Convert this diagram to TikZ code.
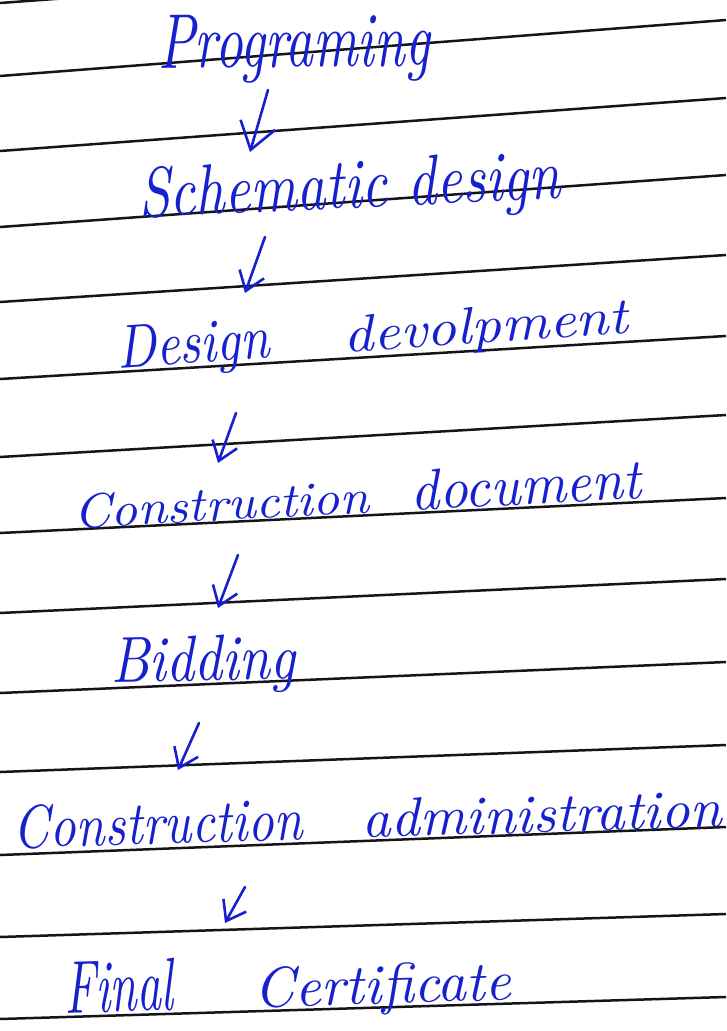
\documentclass[tikz,border=0pt]{standalone}
\usepackage{graphicx}
\usetikzlibrary{arrows.meta}
\definecolor{ink}{RGB}{22,32,205}
\definecolor{rulecol}{RGB}{20,20,25}
% a handwritten word, stretched to a given width and height (in pt)
\newcommand{\hw}[3]{\resizebox{#1pt}{#2pt}{\itshape #3}}

\begin{document}
\begin{tikzpicture}[x=1pt,y=-1pt,
  ruling/.style={rulecol, line width=2.5pt},
  word/.style={ink, anchor=base west, inner sep=0pt, outer sep=0pt},
  flow/.style={ink, line width=2.6pt, line cap=round,
    -{Straight Barb[length=18pt,width=26pt,line width=2.6pt]}},
  bigflow/.style={flow,
    -{Straight Barb[length=26pt,width=36pt,line width=2.6pt]}}]
\useasboundingbox (0,0) rectangle (726,1031);
\fill[white] (0,0) rectangle (726,1031);

% ruled lines of the page, rising slightly to the right
\foreach \l/\r in {3/-50, 76/20, 151/98, 227/175, 302/255, 379/336, 457/415,
                   533/498, 613/579, 693/662, 772/745, 855/827, 937/914, 1019/997}
  \draw[ruling] (0,\l) -- (726,\r);

% stages
\node[word, rotate=0.5] (prog) at (158,68)  {\hw{272}{53}{Programing}};
\node[word, rotate=2.5] (schem) at (139,217) {\hw{423}{50}{Schematic design}};
\node[word, rotate=3.9] (dev)  at (118,368) {\hw{153}{42}{Design}\hspace{74pt}\hw{285}{36}{devolpment}};
\node[word, rotate=3]   (cdoc) at (74,528)  {\hw{296}{34}{Construction}\hspace{42pt}\hw{231}{40}{document}};
\node[word, rotate=1]   (bid)  at (111,682) {\hw{185}{45}{Bidding}};
\node[word, rotate=1.7] (cadm) at (14,848)  {\hw{289}{43}{Construction}\hspace{60pt}\hw{359}{38}{administration}};
\node[word, rotate=1.7] (fin)  at (65,1013) {\hw{109}{52}{Final}\hspace{81pt}\hw{257}{40}{Certificate}};

% arrow end points
\coordinate (a1s) at (268,90);  \coordinate (a1e) at (250,152);
\coordinate (a2s) at (265,237); \coordinate (a2e) at (245,293);
\coordinate (a3s) at (236,413); \coordinate (a3e) at (218,463);
\coordinate (a4s) at (238,555); \coordinate (a4e) at (218,608);
\coordinate (a5s) at (199,723); \coordinate (a5e) at (178,770);
\coordinate (a6s) at (245,887); \coordinate (a6e) at (225,923);

\draw[bigflow] (a1s) -- (a1e);
\draw[flow] (a2s) -- (a2e);
\draw[flow] (a3s) -- (a3e);
\draw[flow] (a4s) -- (a4e);
\draw[flow] (a5s) -- (a5e);
\draw[flow] (a6s) -- (a6e);
\end{tikzpicture}
\end{document}
